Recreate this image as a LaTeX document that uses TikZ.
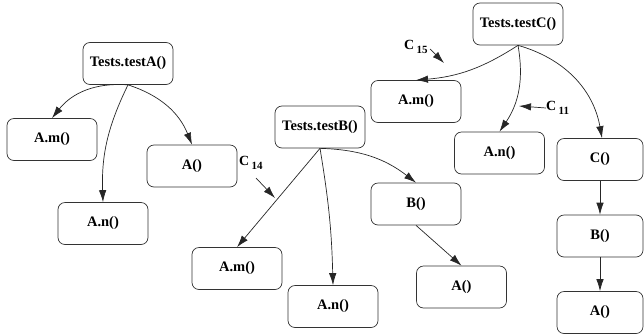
\documentclass[tikz,border=0pt]{standalone}
\usepackage{fontspec}
\setmainfont{Liberation Serif}
\usetikzlibrary{arrows.meta}
\newcommand{\subtag}[1]{\,\raisebox{-3.5pt}{\fontsize{11}{12}\selectfont #1}}
\begin{document}
\begin{tikzpicture}[x=1pt,y=-1pt,
  fn/.style={draw=black!80,line width=0.7pt,rounded corners=7pt,
    minimum width=90pt,minimum height=42pt,inner sep=0pt,
    font=\fontsize{14.5}{16}\selectfont\bfseries},
  fnc/.style={fn,minimum width=86pt},
  call/.style={draw=black!85,line width=0.7pt,-{Latex[length=12pt,width=7.5pt]}},
  tag/.style={inner sep=0pt,font=\fontsize{14}{15}\selectfont\bfseries}]
\useasboundingbox (0,0) rectangle (644,335);
% tree A
\node[fn] (tA) at (128,63.5) {Tests.testA()};
\node[fn] (Am1) at (52,139.5) {A.m()};
\node[fn] (An1) at (103,223.5) {A.n()};
\node[fn] (Ac1) at (192,166) {A()};
% tree B
\node[fn] (tB) at (320,127) {Tests.testB()};
\node[fn] (Am2) at (237,268.5) {A.m()};
\node[fn] (An2) at (333,306.5) {A.n()};
\node[fn] (Bc2) at (416,204) {B()};
\node[fn] (Ac2) at (461.5,287) {A()};
% tree C
\node[fn] (tC) at (518,24) {Tests.testC()};
\node[fn] (Am3) at (416,101.5) {A.m()};
\node[fn] (An3) at (499.5,153) {A.n()};
\node[fnc] (Cc3) at (600,159.5) {C()};
\node[fnc] (Bc3) at (600,236) {B()};
\node[fnc] (Ac3) at (600,312.5) {A()};
% edges A
\draw[call] (tA.south) to[bend right=28] (Am1.north);
\draw[call] (tA.south) to[bend right=14] (An1.north);
\draw[call] (tA.south) to[bend left=25] (Ac1.north);
% edges B
\draw[call] (tB.south) -- (Am2.north);
\draw[call] (tB.south) to[bend left=4] (An2.north);
\draw[call] (tB.south) to[bend left=18] (Bc2.north);
\draw[call] (Bc2.south) -- (Ac2.north);
% edges C
\draw[call] (tC.south) to[bend left=14] (Am3.north);
\draw[call] (tC.south) to[bend left=22] (An3.north);
\draw[call] (tC.south) to[bend left=32] ([xshift=2pt]Cc3.north);
\draw[call] (Cc3.south) -- (Bc3.north);
\draw[call] (Bc3.south) -- (Ac3.north);
% annotations
\node[tag,anchor=west] (c14) at (239,163) {C\subtag{14}};
\coordinate (c14s) at (256,178);
\coordinate (c14t) at (275,198);
\draw[call] (c14s) -- (c14t);
\node[tag,anchor=west] (c15) at (404,47) {C\subtag{15}};
\coordinate (c15s) at (430,49);
\coordinate (c15t) at (444,63);
\draw[call] (c15s) -- (c15t);
\node[tag,anchor=west] (c11) at (546,108) {C\subtag{11}};
\coordinate (c11t) at (519,106);
\draw[call] (c11.west) -- (c11t);
\end{tikzpicture}
\end{document}
